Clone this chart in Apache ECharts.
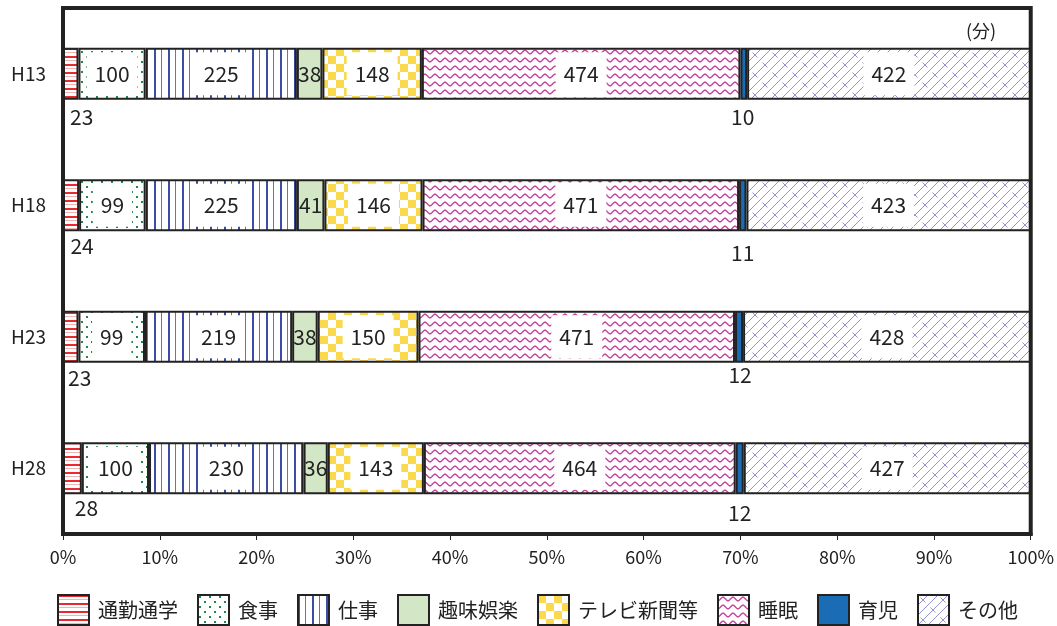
<!DOCTYPE html>
<html>
<head>
<meta charset="utf-8">
<script src="https://cdn.jsdelivr.net/npm/echarts@6/dist/echarts.min.js"></script>
<style>
html,body{margin:0;padding:0;background:#fff;}
#chart{width:1057px;height:626px;}
</style>
</head>
<body>
<div id="chart"></div>
<script>
// ---- data ----
const categories = ['H13', 'H18', 'H23', 'H28'];
const seriesNames = ['通勤通学', '食事', '仕事', '趣味娯楽', 'テレビ新聞等', '睡眠', '育児', 'その他'];
const commute   = [23, 24, 23, 28];
const meals     = [100, 99, 99, 100];
const work      = [225, 225, 219, 230];
const hobby     = [38, 41, 38, 36];
const tvPaper   = [148, 146, 150, 143];
const sleep     = [474, 471, 471, 464];
const childcare = [10, 11, 12, 12];
const other     = [422, 423, 428, 427];
const xTickLabels = ['0%', '10%', '20%', '30%', '40%', '50%', '60%', '70%', '80%', '90%', '100%'];
const unitLabel = '(分)';

// ---- styling helpers ----
function tile(w, h, draw) {
  const c = document.createElement('canvas');
  c.width = w; c.height = h;
  const g = c.getContext('2d');
  g.fillStyle = '#fff';
  g.fillRect(0, 0, w, h);
  draw(g);
  return { image: c, repeat: 'repeat' };
}
const patCommute = tile(8, 8, g => {
  g.fillStyle = '#e82a2e'; g.fillRect(0, 0, 8, 2);
  g.fillStyle = '#f4b4b4'; g.fillRect(0, 4, 8, 1);
});
const patMeals = tile(10, 10, g => {
  g.fillStyle = '#1f8a48';
  g.fillRect(1, 1, 2, 2);
  g.fillRect(6, 6, 2, 2);
});
const patWork = tile(14, 8, g => {
  g.fillStyle = '#3a4ea6'; g.fillRect(0, 0, 2, 8);
  g.fillStyle = '#6474bf'; g.fillRect(7, 0, 1, 8);
});
const colHobby = '#d3e7c6';
const patTv = tile(16, 16, g => {
  g.fillStyle = '#fbd94c';
  g.fillRect(0, 0, 8, 8);
  g.fillRect(8, 8, 8, 8);
});
const patSleep = tile(10, 8, g => {
  g.strokeStyle = '#c4449c'; g.lineWidth = 1.4;
  g.beginPath();
  for (let x = 0; x <= 10; x += 0.5) {
    const y = 4 + 1.8 * Math.cos(x / 10 * Math.PI * 2);
    if (x === 0) g.moveTo(x, y); else g.lineTo(x, y);
  }
  g.stroke();
});
const colChild = '#1a6db4';
const patOther = tile(20, 20, g => {
  g.strokeStyle = '#9494d4'; g.lineWidth = 1;
  g.beginPath();
  for (let k = 0; k <= 60; k += 10) { g.moveTo(k, 0); g.lineTo(k - 20, 20); }
  const segs = [[5, 5], [15, -5], [-5, 15], [15, 15], [25, 5], [5, 25], [25, -5], [-5, 5]];
  segs.forEach(([x, y]) => { g.moveTo(x - 2.5, y - 2.5); g.lineTo(x + 2.5, y + 2.5); });
  g.stroke();
});

const fills = [patCommute, patMeals, patWork, colHobby, patTv, patSleep, colChild, patOther];
const values = [commute, meals, work, hobby, tvPaper, sleep, childcare, other];
// label placement: 'in' = inside with white box, 'plain' = inside no box, 'below' = under bar
const labelMode = ['below', 'in', 'in', 'plain', 'in', 'in', 'below', 'in'];
const belowOffsets = {
  0: [[11, 2], [11, -1], [9, 0], [14, -2]],
  6: [[-1, 2], [0, 6], [1, -3], [0, 3]]
};
const FONT = '"Noto Sans CJK JP", "Noto Sans", sans-serif';

const series = seriesNames.map((name, si) => {
  const mode = labelMode[si];
  const data = values[si].map((v, ci) => {
    const item = { value: v };
    if (mode === 'below') item.label = { offset: belowOffsets[si][ci] };
    return item;
  });
  let label;
  if (mode === 'below') {
    label = { show: true, position: 'bottom', distance: 5, color: '#222', fontSize: 21, fontFamily: FONT };
  } else if (mode === 'in') {
    label = { show: true, position: 'inside', color: '#222', fontSize: 21, fontFamily: FONT,
      backgroundColor: '#fff', padding: [11, 8] };
  } else {
    label = { show: true, position: 'inside', color: '#222', fontSize: 21, fontFamily: FONT };
  }
  return {
    name, type: 'bar', stack: 'total', barWidth: 52,
    itemStyle: { color: fills[si], borderColor: '#222', borderWidth: 2 },
    label, data,
    emphasis: { disabled: true }
  };
});

const chart = echarts.init(document.getElementById('chart'), null, { renderer: 'canvas' });
chart.setOption({
  animation: false,
  backgroundColor: '#fff',
  grid: { left: 63, right: 26, top: 8, bottom: 92, show: true, borderColor: '#222', borderWidth: 4, backgroundColor: 'transparent' },
  xAxis: {
    type: 'value', min: 0, max: 1440, interval: 144,
    axisLine: { show: true, lineStyle: { color: '#222', width: 4 } },
    axisTick: { show: true, length: 6, lineStyle: { color: '#222', width: 1 } },
    splitLine: { show: false },
    axisLabel: { margin: 14, color: '#222', fontSize: 18, fontFamily: FONT,
      formatter: v => xTickLabels[Math.round(v / 144)] }
  },
  yAxis: {
    type: 'category', inverse: true, data: categories,
    axisLine: { show: false }, axisTick: { show: false },
    axisLabel: { margin: 17, color: '#222', fontSize: 19, fontFamily: FONT }
  },
  legend: {
    data: seriesNames.map(n => ({ name: n, icon: 'rect' })),
    left: 52, top: 589, itemWidth: 31, itemHeight: 30, itemGap: 19,
    selectedMode: false,
    textStyle: { color: '#222', fontSize: 20, fontFamily: FONT, padding: [0, 0, 0, 4] }
  },
  graphic: [{
    type: 'text', left: 966, top: 22,
    style: { text: unitLabel, fontSize: 18, fontFamily: FONT, fill: '#222' }
  }],
  series
});
</script>
</body>
</html>
